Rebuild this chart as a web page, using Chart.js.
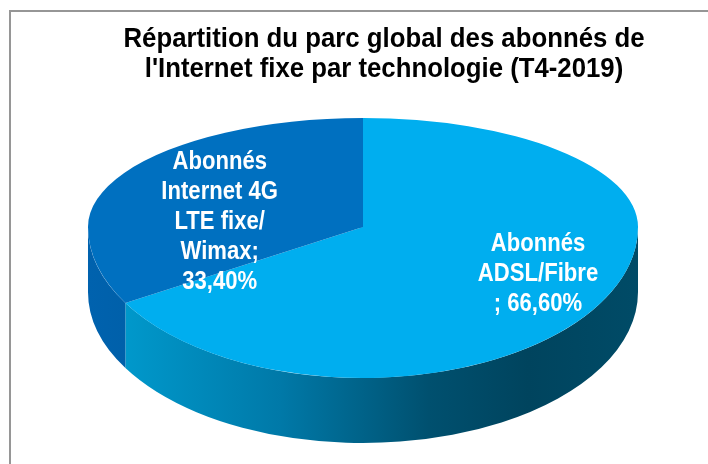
<!DOCTYPE html>
<html>
<head>
<meta charset="utf-8">
<script src="https://cdn.jsdelivr.net/npm/chart.js@4.4.1/dist/chart.umd.min.js"></script>
<style>
  html, body { margin: 0; padding: 0; background: #ffffff; }
  #wrap { width: 708px; height: 464px; }
</style>
</head>
<body>
<div id="wrap"><canvas id="c" width="708" height="464"></canvas></div>
<script>
// ---- data ----
const categories = ['Abonnés ADSL/Fibre', 'Abonnés Internet 4G LTE fixe/ Wimax'];
const values = [66.60, 33.40];
const titleLines = ['Répartition du parc global des abonnés de', "l'Internet fixe par technologie (T4-2019)"];
const pct = v => v.toFixed(2).replace('.', ',') + '%';
const labelLines = [
  ['Abonnés', 'ADSL/Fibre', '; ' + pct(values[0])],
  ['Abonnés', 'Internet 4G', 'LTE fixe/', 'Wimax;', pct(values[1])]
];

// ---- styles / layout ----
const topColors = ['#00AEEF', '#0070C0'];
const FONT = "'Liberation Sans', Arial, sans-serif";
// perspective-like top face: back half and front half radii differ
const geo = { cx: 363, cy: 227, rx: 275, ryBack: 109, ryFront: 151, depth: 65 };
const labelF = [[0.734, 0.625], [0.601, 0.09]];
const titleStyle = { x: 384, y: 47, lh: 30, size: 28, sx: 0.92 };
const labelStyle = { size: 26, sx: 0.85, lh: 30 };

function applyTransform(ctx, el, ry) {
  const r = el.outerRadius;
  ctx.translate(geo.cx, geo.cy);
  ctx.scale(geo.rx / r, ry / r);
  ctx.translate(-el.x, -el.y);
}

function drawScaledText(ctx, t, x, y, sx) {
  ctx.save();
  ctx.translate(x, y);
  ctx.scale(sx, 1);
  ctx.fillText(t, 0, 0);
  ctx.restore();
}

const pie3d = {
  id: 'pie3d',
  beforeDraw(chart) {
    const ctx = chart.ctx;
    ctx.save();
    ctx.strokeStyle = '#969696';
    ctx.lineWidth = 2;
    ctx.strokeRect(10, 11, 900, 700);
    // title
    ctx.fillStyle = '#000000';
    ctx.font = 'bold ' + titleStyle.size + 'px ' + FONT;
    ctx.textAlign = 'center';
    ctx.textBaseline = 'alphabetic';
    titleLines.forEach((t, k) => drawScaledText(ctx, t, titleStyle.x, titleStyle.y + k * titleStyle.lh, titleStyle.sx));
    ctx.restore();
  },
  beforeDatasetsDraw(chart) {
    const ctx = chart.ctx;
    const meta = chart.getDatasetMeta(0);
    const e0 = meta.data[0];
    const r = e0.outerRadius, x = e0.x, y = e0.y;
    // sides (front part only), in the front-half transform
    ctx.save();
    applyTransform(ctx, e0, geo.ryFront);
    const d = geo.depth / (geo.ryFront / r);
    meta.data.forEach((el, i) => {
      const ranges = [[0, Math.PI], [2 * Math.PI, 3 * Math.PI], [-2 * Math.PI, -Math.PI]];
      ranges.forEach(([lo, hi]) => {
        const s = Math.max(el.startAngle, lo), e = Math.min(el.endAngle, hi);
        if (e <= s) return;
        const g = ctx.createLinearGradient(x - r, 0, x + r, 0);
        if (i === 0) {
          g.addColorStop(0.0, '#00a2d8');
          g.addColorStop(0.06, '#0099cc');
          g.addColorStop(0.35, '#0079a8');
          g.addColorStop(0.62, '#00506f');
          g.addColorStop(0.8, '#00445e');
          g.addColorStop(1.0, '#004b67');
        } else {
          g.addColorStop(0.0, '#0062ae');
          g.addColorStop(0.1, '#005fa8');
          g.addColorStop(1.0, '#004a80');
        }
        ctx.beginPath();
        ctx.arc(x, y, r, s, e);
        ctx.lineTo(x + r * Math.cos(e), y + r * Math.sin(e) + d);
        ctx.arc(x, y + d, r, e, s, true);
        ctx.closePath();
        ctx.fillStyle = g;
        ctx.fill();
      });
    });
    ctx.restore();
    // back half of the top face: drawn by Chart.js itself under this transform
    ctx.save();
    applyTransform(ctx, e0, geo.ryBack);
    ctx.beginPath();
    ctx.rect(x - r - 10, y - r - 10, 2 * r + 20, r + 11);
    ctx.clip();
  },
  afterDatasetsDraw(chart) {
    const ctx = chart.ctx;
    ctx.restore();
    const meta = chart.getDatasetMeta(0);
    const e0 = meta.data[0];
    const r = e0.outerRadius, x = e0.x, y = e0.y;
    // front half of the top face
    ctx.save();
    applyTransform(ctx, e0, geo.ryFront);
    ctx.beginPath();
    ctx.rect(x - r - 10, y, 2 * r + 20, r + 10);
    ctx.clip();
    meta.data.forEach(el => el.draw(ctx));
    ctx.restore();
    // labels
    ctx.save();
    ctx.fillStyle = '#ffffff';
    ctx.font = 'bold ' + labelStyle.size + 'px ' + FONT;
    ctx.textAlign = 'center';
    ctx.textBaseline = 'middle';
    meta.data.forEach((el, i) => {
      const mid = (el.startAngle + el.endAngle) / 2;
      const ry = Math.sin(mid) < 0 ? geo.ryBack : geo.ryFront;
      const px = geo.cx + Math.cos(mid) * labelF[i][0] * geo.rx;
      const py = geo.cy + Math.sin(mid) * labelF[i][1] * ry;
      const lines = labelLines[i];
      const y0 = py - (lines.length - 1) * labelStyle.lh / 2;
      lines.forEach((t, k) => drawScaledText(ctx, t, px, y0 + k * labelStyle.lh, labelStyle.sx));
    });
    ctx.restore();
  }
};

new Chart(document.getElementById('c'), {
  type: 'pie',
  data: {
    labels: categories,
    datasets: [{
      data: values,
      backgroundColor: topColors,
      borderWidth: 0,
      hoverOffset: 0
    }]
  },
  options: {
    responsive: false,
    animation: false,
    events: [],
    layout: { padding: { left: 20, right: 20, top: 100, bottom: 20 } },
    plugins: {
      legend: { display: false },
      tooltip: { enabled: false },
      title: { display: false }
    }
  },
  plugins: [pie3d]
});
</script>
</body>
</html>
